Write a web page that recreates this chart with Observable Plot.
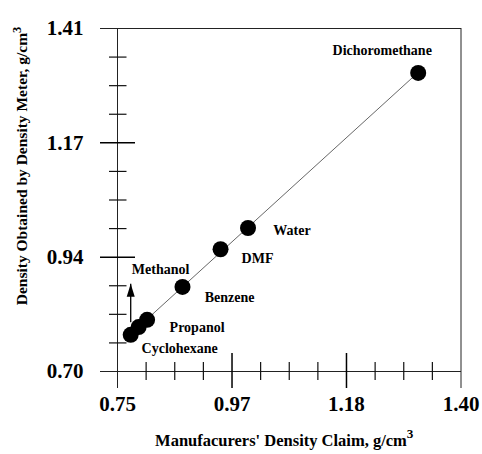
<!DOCTYPE html>
<html><head><meta charset="utf-8">
<script src="https://cdn.jsdelivr.net/npm/d3@7"></script>
<script src="https://cdn.jsdelivr.net/npm/@observablehq/plot@0.6"></script>
<style>html,body{margin:0;padding:0;background:#fff;} svg{display:block}</style>
</head><body><div id="chart"></div>
<script>
// ---- data ----
const solvents = ["Cyclohexane","Methanol","Propanol","Benzene","DMF","Water","Dichoromethane"];
const claimed  = [0.775, 0.790, 0.806, 0.873, 0.945, 0.997, 1.319];
const measured = [0.776, 0.792, 0.807, 0.875, 0.953, 0.997, 1.318];
const xTickValues = [0.75, 0.9667, 1.1833, 1.40];
const xTickLabels = ["0.75","0.97","1.18","1.40"];
const yTickValues = [0.70, 0.9367, 1.1733, 1.41];
const yTickLabels = ["0.70","0.94","1.17","1.41"];
const arrowX = [0.775];
const arrowFrom = [0.802];
const arrowTo = [0.8815];
const xTitle = "Manufacurers' Density Claim, g/cm³";
const yTitle = "Density Obtained by Density Meter, g/cm³";

// ---- layout ----
const xDomain = [xTickValues[0], xTickValues[3]];
const yDomain = [yTickValues[0], yTickValues[3]];
const xMinor = d3.range(13).filter(i => i % 4 !== 0).map(i => xDomain[0] + i * (xDomain[1] - xDomain[0]) / 12);
const yMinor = d3.range(13).filter(i => i % 4 !== 0).map(i => yDomain[0] + i * (yDomain[1] - yDomain[0]) / 12);
const idx = d3.range(solvents.length);
const labelOffset = {
  Dichoromethane: [-36, -22], Water: [44, 2], DMF: [37, 9], Benzene: [47, 11],
  Propanol: [50, 8], Cyclohexane: [49, 14], Methanol: [22, -58]
};
const headSymbol = {draw(ctx) { ctx.moveTo(0, 0); ctx.lineTo(4, 13); ctx.lineTo(-4, 13); ctx.closePath(); }};
const font = "'Liberation Serif', 'Times New Roman', serif";

const chart = Plot.plot({
  width: 482, height: 454,
  marginLeft: 117, marginRight: 21.5, marginTop: 28, marginBottom: 83,
  x: {domain: xDomain, axis: null},
  y: {domain: yDomain, axis: null},
  style: {fontFamily: font, background: "#fff", color: "#000"},
  marks: [
    // frame lines
    Plot.ruleY(yDomain, {stroke: "#222", strokeWidth: 1, insetLeft: -17, insetRight: -0.5}),
    Plot.ruleX(xDomain, {stroke: "#222", strokeWidth: 1, insetBottom: -17}),
    // major inner ticks
    Plot.ruleX(xTickValues.slice(1, 3), {stroke: "#000", strokeWidth: 1.5, insetTop: 325, insetBottom: -17}),
    Plot.ruleY(yTickValues.slice(1, 3), {stroke: "#000", strokeWidth: 1.5, insetLeft: -17, insetRight: 325.5}),
    // minor ticks
    Plot.ruleX(xMinor, {stroke: "#111", strokeWidth: 1.2, insetTop: 334, insetBottom: -9}),
    Plot.ruleY(yMinor, {stroke: "#111", strokeWidth: 1.2, insetLeft: -8, insetRight: 334}),
    // tick labels
    Plot.text(xTickValues, {x: d => d, text: (d, i) => xTickLabels[i], frameAnchor: "bottom", dy: 39,
      fontSize: 21, fontWeight: "bold", fill: "#000"}),
    Plot.text(yTickValues, {y: d => d, text: (d, i) => yTickLabels[i], frameAnchor: "left", dx: -34,
      textAnchor: "end", fontSize: 21, fontWeight: "bold", fill: "#000"}),
    // axis titles
    Plot.text([xTitle], {text: d => d, frameAnchor: "bottom", dy: 74, dx: -5, textAnchor: "middle",
      fontSize: 16.5, fontWeight: "bold", fill: "#000"}),
    Plot.text([yTitle], {text: d => d, frameAnchor: "left", dx: -95, dy: -34, rotate: -90, textAnchor: "middle",
      fontSize: 15.5, fontWeight: "bold", fill: "#000"}),
    // fit line
    Plot.linearRegressionY(idx, {x: i => claimed[i], y: i => measured[i], ci: 0, stroke: "#555", strokeWidth: 0.9}),
    // points
    Plot.dot(idx, {x: i => claimed[i], y: i => measured[i], r: 8, fill: "#000", stroke: "none"}),
    // methanol arrow
    Plot.link([0], {x1: i => arrowX[i], x2: i => arrowX[i], y1: i => arrowFrom[i], y2: i => arrowTo[i], stroke: "#000", strokeWidth: 1.3}),
    Plot.dot([0], {x: i => arrowX[i], y: i => arrowTo[i], symbol: headSymbol, fill: "#000", stroke: "none"}),
    // point labels
    ...idx.map(i => Plot.text([i], {x: j => claimed[j], y: j => measured[j], text: j => solvents[j],
      dx: labelOffset[solvents[i]][0], dy: labelOffset[solvents[i]][1], fontSize: 14, fontWeight: "bold", fill: "#000"}))
  ]
});
// render the superscript "3" raised at normal digit size, as in the reference
d3.select(chart).selectAll("text").each(function () {
  const t = this.textContent;
  if (!t.endsWith("³")) return;
  const el = d3.select(this);
  el.text(null);
  el.append("tspan").text(t.slice(0, -1));
  el.append("tspan").attr("dy", "-0.55em").attr("font-size", "0.8em").text("3");
});
document.getElementById("chart").appendChild(chart);
</script>
</body></html>
